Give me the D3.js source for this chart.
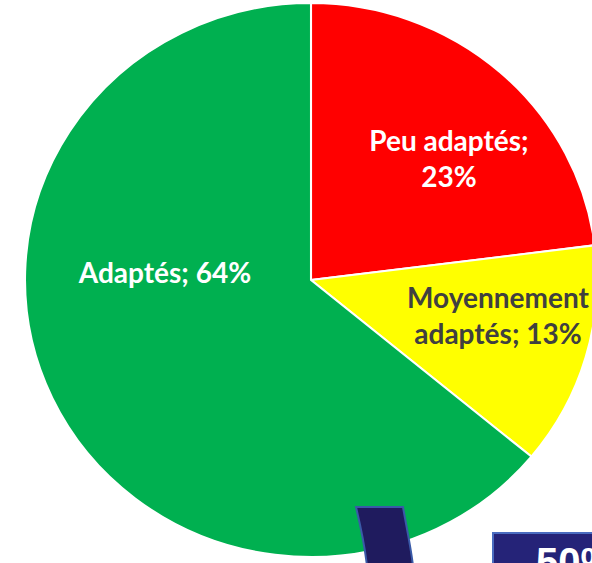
<!DOCTYPE html>
<html>
<head>
<meta charset="utf-8">
<script src="https://cdn.jsdelivr.net/npm/d3@7"></script>
<style>
  body { margin: 0; background: #fff; }
  svg { display: block; }
</style>
</head>
<body>
<script>
const categories = ["Peu adaptés", "Moyennement adaptés", "Adaptés"]
const values = [23, 13, 64]
const colors = ["#ff0000", "#ffff00", "#00b050"]
const labelColors = ["#ffffff", "#404040", "#ffffff"]

const width = 592
const height = 563
const cx = 311, cy = 280
const ry = 277
const rx = 286

// label blocks: centre x, first baseline, line breaks (layout only)
const labelLayout = [
  {x: 449, y: 151, lines: d => [d.name + ";", d.value + "%"]},
  {x: 498, y: 308, lines: d => ["Moyennement", "adaptés; " + d.value + "%"]},
  {x: 165, y: 283, lines: d => [d.name + "; " + d.value + "%"]}
]

const data = categories.map((c, i) => ({name: c, value: values[i], color: colors[i], label: labelColors[i]}))

const svg = d3.select("body").append("svg")
  .attr("width", width)
  .attr("height", height)

const pie = d3.pie().sort(null).value(d => d.value)
const arc = d3.arc().innerRadius(0).outerRadius(ry)

const g = svg.append("g")
  .attr("transform", "translate(" + cx + "," + cy + ") scale(" + (rx / ry) + ",1)")

g.selectAll("path")
  .data(pie(data))
  .enter()
  .append("path")
    .attr("d", arc)
    .attr("fill", d => d.data.color)
    .attr("stroke", "#fff")
    .attr("stroke-width", 2)
    .attr("stroke-linejoin", "round")

const labels = svg.append("g")
data.forEach((d, i) => {
  const lay = labelLayout[i]
  lay.lines(d).forEach((line, j) => {
    labels.append("text")
      .attr("x", lay.x)
      .attr("y", lay.y + j * 36)
      .attr("text-anchor", "middle")
      .attr("font-family", "Lato, 'Open Sans', sans-serif")
      .attr("font-weight", "bold")
      .attr("font-size", "28px")
      .attr("fill", d.label)
      .text(line)
  })
})

// bits of the slide that sit over the chart
svg.append("path")
  .attr("d", "M356,507 L403,507 C407,530 411,548 413,566 L367,566 C365,548 361,528 356,507 Z")
  .attr("fill", "#1f1b5e")
  .attr("stroke", "#3a5aa8")
  .attr("stroke-width", 2)

svg.append("rect")
  .attr("x", 493).attr("y", 533)
  .attr("width", 110).attr("height", 40)
  .attr("fill", "#252378")
  .attr("stroke", "#4a6cc0")
  .attr("stroke-width", 2)

svg.append("text")
  .attr("x", 536).attr("y", 576)
  .attr("font-family", "'Liberation Sans', Arial, sans-serif")
  .attr("font-weight", "bold")
  .attr("font-size", "40px")
  .attr("fill", "#fff")
  .text("50%")
</script>
</body>
</html>
